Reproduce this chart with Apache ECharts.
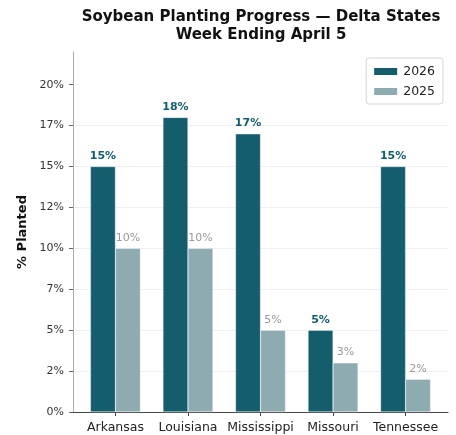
<!DOCTYPE html>
<html><head><meta charset="utf-8">
<script src="https://cdn.jsdelivr.net/npm/echarts@6/dist/echarts.min.js"></script>
<style>html,body{margin:0;padding:0;background:#fff}#c{width:456px;height:435px}</style>
</head><body><div id="c"></div>
<script>
const states = ['Arkansas', 'Louisiana', 'Mississippi', 'Missouri', 'Tennessee'];
const values2026 = [15, 18, 17, 5, 15];
const values2025 = [10, 10, 5, 3, 2];
const yTicks = [0, 2.5, 5, 7.5, 10, 12.5, 15, 17.5, 20];
const seriesNames = ['2026', '2025'];

const C26 = '#135d6c', C25 = '#8eabb2';
const font = 'DejaVu Sans';
const idx = states.map((s, i) => i);

const chart = echarts.init(document.getElementById('c'), null, {renderer: 'canvas'});
chart.setOption({
  animation: false,
  backgroundColor: '#fff',
  title: {
    text: 'Soybean Planting Progress \u2014 Delta States\nWeek Ending April 5',
    left: 256, top: 3, textAlign: 'center',
    textStyle: {fontFamily: font, fontSize: 15, fontWeight: 'bold', color: '#111', lineHeight: 18}
  },
  legend: {
    data: seriesNames,
    orient: 'vertical', right: 13, top: 58,
    itemWidth: 25, itemHeight: 9, itemGap: 7,
    padding: [7, 8, 6, 6],
    borderColor: '#d5d5d5', borderWidth: 1, borderRadius: 3,
    backgroundColor: '#fff',
    textStyle: {fontFamily: font, fontSize: 12.5, color: '#222'},
    icon: 'rect'
  },
  grid: {left: 73, right: 8, top: 52, bottom: 23, containLabel: false},
  xAxis: {
    type: 'value', min: -0.585, max: 4.585,
    axisLine: {show: true, onZero: false, lineStyle: {color: '#444', width: 1}},
    axisTick: {show: true, length: 4, lineStyle: {color: '#444'}, customValues: idx},
    axisLabel: {customValues: idx, formatter: v => states[Math.round(v)] || '', fontFamily: font, fontSize: 12.5, color: '#222', margin: 9},
    splitLine: {show: false}
  },
  yAxis: {
    type: 'value', min: 0, max: 22,
    name: '% Planted', nameLocation: 'middle', nameGap: 41,
    nameTextStyle: {fontFamily: font, fontSize: 13, fontWeight: 'bold', color: '#111'},
    axisLine: {show: true, onZero: false, lineStyle: {color: '#aaa', width: 1}},
    axisTick: {show: true, length: 4, lineStyle: {color: '#666'}, customValues: yTicks},
    axisLabel: {customValues: yTicks, formatter: v => Math.floor(v) + '%', fontFamily: font, fontSize: 11, color: '#333', margin: 9},
    splitLine: {show: true, showMaxLine: false, showMinLine: false, lineStyle: {color: '#efefef', width: 1}}
  },
  series: [
    {
      name: seriesNames[0], type: 'bar', barWidth: 25, barGap: '0%',
      data: values2026.map((v, i) => [i, v]),
      itemStyle: {color: C26, borderColor: '#fff', borderWidth: 0.4},
      label: {show: true, position: 'top', distance: 5, formatter: p => p.value[1] + '%', fontFamily: font, fontSize: 11, fontWeight: 'bold', color: C26}
    },
    {
      name: seriesNames[1], type: 'bar', barWidth: 25, barGap: '0%',
      data: values2025.map((v, i) => [i, v]),
      itemStyle: {color: C25, borderColor: '#fff', borderWidth: 0.4},
      label: {show: true, position: 'top', distance: 5, formatter: p => p.value[1] + '%', fontFamily: font, fontSize: 11, color: '#999'}
    }
  ]
});
</script></body></html>
